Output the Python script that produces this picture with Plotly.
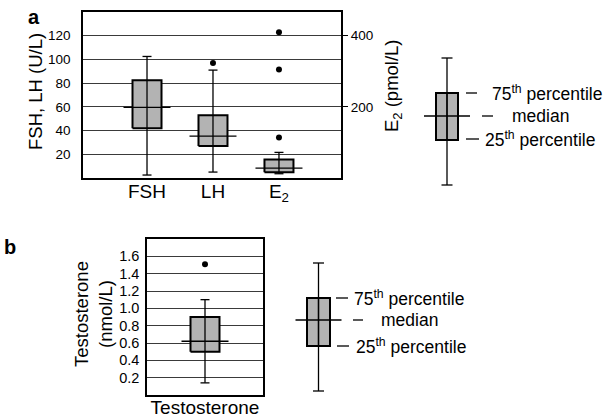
import plotly.graph_objects as go

# ---------------- data ----------------
hormone_categories = ["FSH", "LH", "E<sub>2</sub>"]
# FSH, LH in U/L (left axis)
gon_low = [2.5, 5.0]
gon_q1 = [42.0, 27.0]
gon_median = [59.5, 35.3]
gon_q3 = [82.5, 53.0]
gon_high = [102.5, 91.0]
lh_outliers = [97.0]
# E2 in pmol/L (right axis)
e2_low = 12.0
e2_q1 = 16.0
e2_median = 28.0
e2_q3 = 52.0
e2_high = 72.0
e2_outliers = [114.0, 305.0, 410.0]
# Testosterone nmol/L
t_category = ["Testosterone"]
t_low = 0.14
t_q1 = 0.50
t_median = 0.62
t_q3 = 0.90
t_high = 1.10
t_outliers = [1.51]

left_ticks = [20, 40, 60, 80, 100, 120]
right_ticks = [200, 400]
t_ticks = [0.2, 0.4, 0.6, 0.8, 1.0, 1.2, 1.4, 1.6]

# ---------------- layout helpers ----------------
W, H = 612, 418
FONT = "Liberation Sans, Arial, sans-serif"
BOX_FILL = "#b3b3b3"


def px(x):
    return x / W


def py(y):
    return 1 - y / H


# panel a plot area (pixels)
A_L, A_R, A_T, A_B = 83, 341, 12, 178
A_XR = [-0.97, 2.94]
A_YR = [0, 140]
A_Y2R = [0, 140 * 10 / 3]
# panel b plot area
B_L, B_R, B_T, B_B = 147, 263, 239, 395
B_XR = [-1, 1]
B_YR = [0, 1.8]

a_ppu = (A_R - A_L) / (A_XR[1] - A_XR[0])
b_ppu = (B_R - B_L) / (B_XR[1] - B_XR[0])

fig = go.Figure()


def add_box(xpos, low, q1, med, q3, high, outliers, xa, ya, ppu):
    hw = 14.5 / ppu
    mw = 23.5 / ppu
    cw = 4.5 / ppu
    fig.add_trace(go.Scatter(x=[xpos - hw, xpos + hw, xpos + hw, xpos - hw, xpos - hw],
                             y=[q1, q1, q3, q3, q1], mode="lines", fill="toself",
                             fillcolor=BOX_FILL, line=dict(color="black", width=2),
                             xaxis=xa, yaxis=ya, hoverinfo="skip", showlegend=False))
    fig.add_trace(go.Scatter(x=[xpos, xpos, None, xpos - cw, xpos + cw, None, xpos - cw, xpos + cw,
                                None, xpos - mw, xpos + mw],
                             y=[low, high, None, high, high, None, low, low, None, med, med],
                             mode="lines", line=dict(color="black", width=1.3),
                             xaxis=xa, yaxis=ya, hoverinfo="skip", showlegend=False))
    if outliers:
        fig.add_trace(go.Scatter(x=[xpos] * len(outliers), y=outliers, mode="markers",
                                 marker=dict(color="black", size=6),
                                 xaxis=xa, yaxis=ya, showlegend=False))


for i in range(2):
    add_box(i, gon_low[i], gon_q1[i], gon_median[i], gon_q3[i], gon_high[i],
            lh_outliers if i == 1 else [], "x", "y", a_ppu)
add_box(2, e2_low, e2_q1, e2_median, e2_q3, e2_high, e2_outliers, "x", "y2", a_ppu)
add_box(0, t_low, t_q1, t_median, t_q3, t_high, t_outliers, "x2", "y3", b_ppu)

axis_common = dict(showline=True, linecolor="black", linewidth=1.5, mirror=True,
                   zeroline=False, fixedrange=True, automargin=False)

fig.update_layout(
    width=W, height=H, margin=dict(l=0, r=0, t=0, b=0),
    paper_bgcolor="white", plot_bgcolor="white",
    font=dict(family=FONT, color="black"),
    showlegend=False,
    xaxis=dict(domain=[px(A_L), px(A_R)], range=A_XR, tickvals=[0, 1, 2],
               ticktext=hormone_categories, ticks="", showgrid=False,
               tickfont=dict(size=19), ticklabelstandoff=-5, anchor="y", **axis_common),
    yaxis=dict(domain=[py(A_B), py(A_T)], range=A_YR, tickvals=left_ticks,
               ticks="", showgrid=True, gridcolor="#3a3a3a", gridwidth=1,
               tickfont=dict(size=13.5), ticklabelstandoff=8, anchor="x", **axis_common),
    yaxis2=dict(overlaying="y", side="right", range=A_Y2R, tickvals=right_ticks,
                ticks="outside", ticklen=6, tickcolor="black", tickwidth=1,
                showgrid=False, showline=False, zeroline=False, fixedrange=True,
                tickfont=dict(size=13.5), anchor="x", automargin=False),
    xaxis2=dict(domain=[px(B_L), px(B_R)], range=B_XR, tickvals=[0],
                ticktext=t_category, ticks="", showgrid=False,
                tickfont=dict(size=19), ticklabelstandoff=-6, anchor="y3", **axis_common),
    yaxis3=dict(domain=[py(B_B), py(B_T)], range=B_YR, tickvals=t_ticks,
                tickformat=".1f", ticks="", showgrid=True, gridcolor="#3a3a3a",
                gridwidth=1, tickfont=dict(size=14.5), ticklabelstandoff=3,
                anchor="x2", **axis_common),
)

# axis titles and panel letters
ann = [
    dict(text="<b>a</b>", x=px(26), y=py(17), xanchor="left", yanchor="middle",
         font=dict(size=20)),
    dict(text="<b>b</b>", x=px(2), y=py(247), xanchor="left", yanchor="middle",
         font=dict(size=20)),
    dict(text="FSH, LH (U/L)", x=px(35), y=py(92), textangle=-90,
         xanchor="center", yanchor="middle", font=dict(size=18.5)),
    dict(text="E<sub>2</sub> (pmol/L)", x=px(393), y=py(86), textangle=-90,
         xanchor="center", yanchor="middle", font=dict(size=18.5)),
    dict(text="Testosterone<br>(nmol/L)", x=px(93), y=py(314), textangle=-90,
         xanchor="center", yanchor="middle", font=dict(size=18.5)),
]

shapes = []


def key_box(cx, top_cap, q3y, medy, q1y, bot_cap, hw, mw, cw, labels):
    # schematic legend box in pixel units
    shapes.append(dict(type="line", xref="paper", yref="paper", x0=px(cx), x1=px(cx),
                       y0=py(top_cap), y1=py(bot_cap), line=dict(color="black", width=1.3)))
    shapes.append(dict(type="rect", xref="paper", yref="paper", x0=px(cx - hw), x1=px(cx + hw),
                       y0=py(q1y), y1=py(q3y), fillcolor=BOX_FILL,
                       line=dict(color="black", width=2), layer="below"))
    shapes.append(dict(type="line", xref="paper", yref="paper", x0=px(cx), x1=px(cx),
                       y0=py(q3y), y1=py(q1y), line=dict(color="black", width=1.3)))
    for yy in (top_cap, bot_cap):
        shapes.append(dict(type="line", xref="paper", yref="paper", x0=px(cx - cw),
                           x1=px(cx + cw), y0=py(yy), y1=py(yy),
                           line=dict(color="black", width=1.3)))
    shapes.append(dict(type="line", xref="paper", yref="paper", x0=px(cx - mw), x1=px(cx + mw),
                       y0=py(medy), y1=py(medy), line=dict(color="black", width=1.3)))
    for (d0, d1, yy, tx, txt) in labels:
        shapes.append(dict(type="line", xref="paper", yref="paper", x0=px(d0), x1=px(d1),
                           y0=py(yy), y1=py(yy), line=dict(color="black", width=1.3)))
        ann.append(dict(text=txt, x=px(tx), y=py(yy), xanchor="left", yanchor="middle",
                        font=dict(size=17.5)))


key_box(447, 58, 93, 116, 140, 185, 11, 23, 5.5,
        [(466, 477, 93, 490, "75<sup>th</sup> percentile"),
         (482, 493, 116, 510, "median"),
         (466, 479, 139, 483, "25<sup>th</sup> percentile")])
key_box(318.5, 263, 298, 320, 346, 391, 11.5, 23, 5.5,
        [(336, 348, 298, 352, "75<sup>th</sup> percentile"),
         (353, 363, 320, 379, "median"),
         (337, 349, 346, 354, "25<sup>th</sup> percentile")])

for a in ann:
    a.setdefault("xref", "paper")
    a.setdefault("yref", "paper")
    a["showarrow"] = False
fig.update_layout(annotations=ann, shapes=shapes)

fig.write_html("out.html", config={"displayModeBar": False},
               post_script="document.body.style.margin='0';document.body.style.padding='0';")
